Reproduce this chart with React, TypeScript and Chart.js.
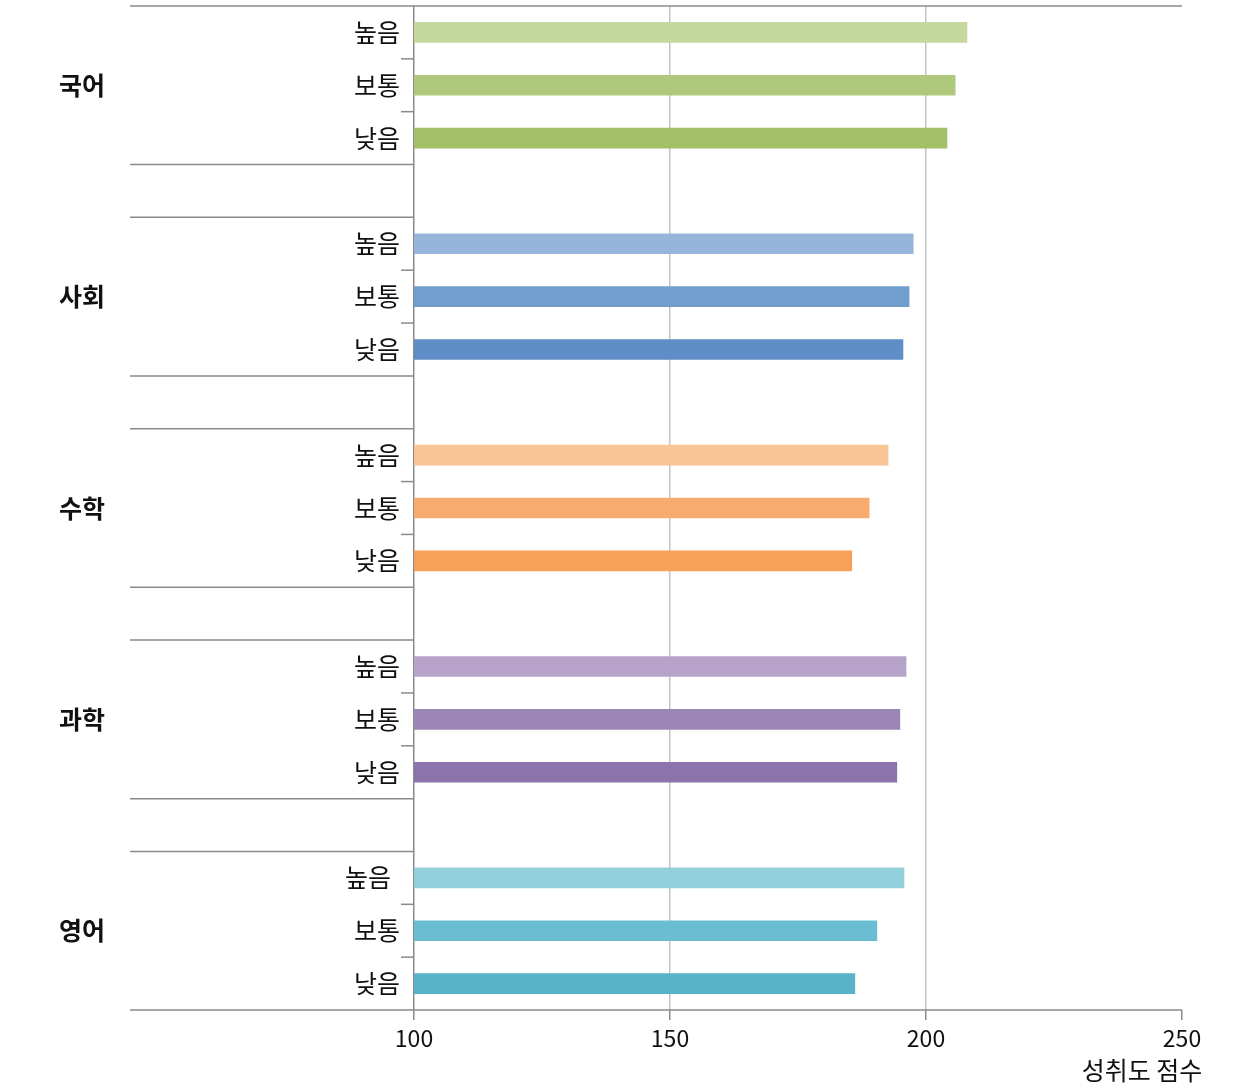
import React, { useEffect, useRef } from "react";
import { Chart, registerables } from "chart.js";

Chart.register(...registerables);

const subjects = ["국어", "사회", "수학", "과학", "영어"];
const levels = ["높음", "보통", "낮음"];
const koreanScores = [208.0, 205.7, 204.1];
const socialScores = [197.5, 196.7, 195.5];
const mathScores = [192.6, 188.9, 185.5];
const scienceScores = [196.1, 194.9, 194.3];
const englishScores = [195.7, 190.4, 186.1];
const xTicks = [100, 150, 200, 250];
const axisTitle = "성취도 점수";

const palette = [
  ["#c5d99e", "#afc97c", "#a2c068"],
  ["#97b5da", "#729ecd", "#5f8dc5"],
  ["#f9c496", "#f8ab6c", "#f7a058"],
  ["#b7a2c9", "#9c85b7", "#8c73ab"],
  ["#94cfdc", "#6bbdd2", "#58b2c9"],
];

const FONT = "'Noto Sans CJK KR', 'Noto Sans', sans-serif";
const LINE = "#8a8a8a";

export default function App() {
  const ref = useRef<HTMLCanvasElement | null>(null);

  useEffect(() => {
    const all = [koreanScores, socialScores, mathScores, scienceScores, englishScores];
    const labels: string[] = [];
    const data: (number | null)[] = [];
    const colors: string[] = [];
    all.forEach((arr, g) => {
      arr.forEach((v, i) => {
        labels.push(levels[i]);
        data.push(v);
        colors.push(palette[g][i]);
      });
      if (g < all.length - 1) {
        labels.push("");
        data.push(null);
        colors.push("transparent");
      }
    });

    const decor = {
      id: "decor",
      afterDraw(chart: any) {
        const { ctx, chartArea } = chart;
        const y = chart.scales.y;
        const x = chart.scales.x;
        const leftX = 130;
        const rowPix = (i: number) => y.getPixelForValue(i);
        const half = (rowPix(1) - rowPix(0)) / 2;
        ctx.save();
        ctx.strokeStyle = LINE;
        ctx.lineWidth = 1.5;
        const hline = (yy: number, x1: number, x2: number) => {
          ctx.beginPath();
          ctx.moveTo(x1, yy);
          ctx.lineTo(x2, yy);
          ctx.stroke();
        };
        hline(chartArea.top, leftX, chartArea.right);
        hline(chartArea.bottom, leftX, chartArea.right);
        // category labels
        ctx.fillStyle = "#111";
        ctx.font = `25px ${FONT}`;
        ctx.textAlign = "right";
        ctx.textBaseline = "middle";
        labels.forEach((lab, i) => {
          if (!lab) return;
          // the last group's first label sits slightly further left in the original
          const shift = i === labels.length - 3 ? 9 : 0;
          ctx.fillText(lab, chartArea.left - 14 - shift, rowPix(i));
        });
        subjects.forEach((s, g) => {
          const start = g * 4;
          const top = rowPix(start) - half;
          const bottom = rowPix(start + 2) + half;
          if (g > 0) hline(top, leftX, chartArea.left);
          if (g < subjects.length - 1) hline(bottom, leftX, chartArea.left);
          for (let k = 0; k < 2; k++) {
            const yy = rowPix(start + k) + half;
            hline(yy, chartArea.left - 13, chartArea.left);
          }
          ctx.fillStyle = "#111";
          ctx.font = `bold 25px ${FONT}`;
          ctx.textAlign = "center";
          ctx.textBaseline = "middle";
          ctx.fillText(s, 82, rowPix(start + 1));
        });
        // axis title
        ctx.font = `22px ${FONT}`;
        const lastTick = xTicks[xTicks.length - 1];
        const w = ctx.measureText(String(lastTick)).width;
        ctx.font = `25px ${FONT}`;
        ctx.textAlign = "right";
        ctx.textBaseline = "middle";
        ctx.fillStyle = "#111";
        ctx.fillText(axisTitle, x.getPixelForValue(lastTick) + w / 2 + 2, chartArea.bottom + 60);
        ctx.restore();
      },
    };

    const chart = new Chart(ref.current as HTMLCanvasElement, {
      type: "bar",
      data: {
        labels,
        datasets: [
          {
            data,
            backgroundColor: colors,
            borderWidth: 0,
            barThickness: 20,
          },
        ],
      },
      options: {
        indexAxis: "y",
        animation: false,
        responsive: true,
        maintainAspectRatio: false,
        layout: { padding: { left: 0, right: 58, top: 6, bottom: 0 } },
        plugins: { legend: { display: false }, tooltip: { enabled: false } },
        scales: {
          x: {
            type: "linear",
            min: xTicks[0],
            max: xTicks[xTicks.length - 1],
            afterBuildTicks: (scale: any) => {
              scale.ticks = xTicks.map((v) => ({ value: v }));
            },
            afterFit: (scale: any) => {
              scale.height = 75;
            },
            border: { display: false },
            grid: {
              color: (c: any) =>
                c.tick && (c.tick.value === 150 || c.tick.value === 200) ? "#c4c4c4" : "transparent",
              lineWidth: 1.5,
              tickColor: LINE,
              tickLength: 10,
              drawTicks: true,
            },
            ticks: {
              color: "#111",
              font: { family: FONT, size: 23 },
              padding: 4,
              maxRotation: 0,
            },
          },
          y: {
            type: "category",
            afterFit: (scale: any) => {
              scale.width = 414;
            },
            border: { display: true, color: LINE, width: 1.5 },
            grid: { display: false, drawTicks: false },
            ticks: { display: false },
          },
        },
      },
      plugins: [decor],
    } as any);
    return () => chart.destroy();
  }, []);

  return (
    <div style={{ position: "fixed", left: 0, top: 0, width: 1240, height: 1085, background: "#fff" }}>
      <canvas ref={ref} />
    </div>
  );
}
